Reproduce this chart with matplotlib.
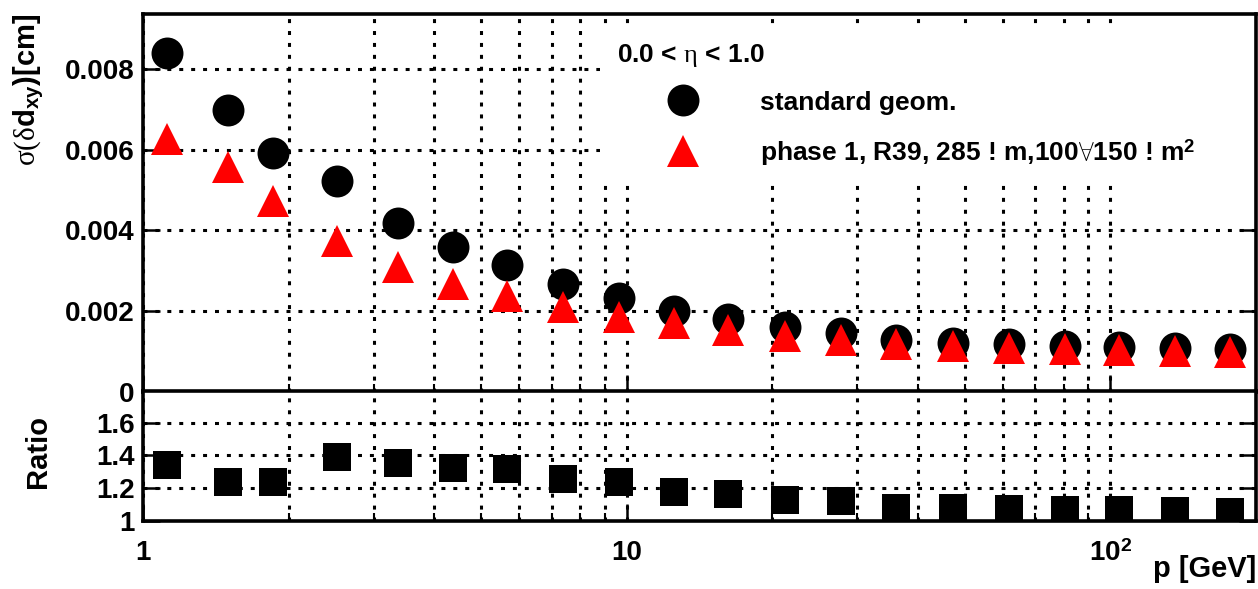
import numpy as np
import matplotlib
matplotlib.use("Agg")
import matplotlib.pyplot as plt
from matplotlib.lines import Line2D
from matplotlib.patches import Rectangle
from matplotlib.ticker import FixedLocator, LogLocator, FuncFormatter, NullFormatter

plt.rcParams['font.family'] = ['Liberation Sans', 'DejaVu Sans']
plt.rcParams['font.weight'] = 'bold'
plt.rcParams['axes.labelweight'] = 'bold'
plt.rcParams['mathtext.fontset'] = 'custom'
plt.rcParams['mathtext.rm'] = 'Liberation Serif:weight=normal'
plt.rcParams['mathtext.bf'] = 'Liberation Sans:bold'
plt.rcParams['mathtext.it'] = 'Liberation Serif:italic:weight=normal'

# momentum bins [GeV]
p = [1.12, 1.50, 1.86, 2.52, 3.36, 4.37, 5.65, 7.38, 9.63, 12.5,
     16.2, 21.2, 27.7, 36.1, 47.2, 61.6, 80.4, 104.4, 136.2, 177.0]

# sigma(delta d_xy) [cm]
sigma_standard = [0.00840, 0.00698, 0.00591, 0.00523, 0.00418, 0.00358, 0.00315, 0.00266,
                  0.00231, 0.00200, 0.00180, 0.00160, 0.00145, 0.00129, 0.00121, 0.00118,
                  0.00113, 0.00110, 0.00107, 0.00106]
sigma_phase1 = [0.00627, 0.00558, 0.00472, 0.00374, 0.00309, 0.00266, 0.00236, 0.00210,
                0.00184, 0.00170, 0.00152, 0.00138, 0.00128, 0.00118, 0.00112, 0.00109,
                0.00105, 0.00102, 0.00100, 0.00098]

# standard / phase 1
ratio = [1.339, 1.240, 1.240, 1.393, 1.352, 1.323, 1.317, 1.254, 1.240, 1.176,
         1.163, 1.129, 1.122, 1.081, 1.081, 1.073, 1.067, 1.066, 1.058, 1.052]

label_standard = "standard geom."
label_phase1 = "phase 1, R39, 285 ! m,100$\\mathrm{\\forall}$150 ! m$^{\\mathbf{2}}$"
eta_range = "0.0 < $\\mathrm{\\eta}$ < 1.0"

fig = plt.figure(figsize=(12.58, 5.89), dpi=100)
ax1 = fig.add_axes([0.1137, 0.3353, 0.8847, 0.6409])
ax2 = fig.add_axes([0.1137, 0.11545, 0.8847, 0.2199], sharex=ax1)

grid_kw = dict(color='black', linewidth=2.2, linestyle=(0, (1.3, 2.6)))

for ax in (ax1, ax2):
    ax.set_xscale('log')
    ax.set_xlim(1, 200)
    for s in ax.spines.values():
        s.set_linewidth(2.6)
    ax.tick_params(axis='both', which='major', direction='in', length=12, width=1.8,
                   labelsize=20, right=True)
    ax.tick_params(axis='x', which='minor', direction='in', length=6, width=1.5)
    ax.xaxis.set_major_locator(LogLocator(base=10))
    ax.xaxis.set_minor_locator(LogLocator(base=10, subs=np.arange(2, 10)))
    ax.xaxis.set_minor_formatter(NullFormatter())
    ax.grid(True, which='both', axis='x', **grid_kw)
    ax.grid(True, which='major', axis='y', **grid_kw)
    ax.set_axisbelow(True)

# upper panel: resolution
ax1.set_ylim(0, 0.00937)
ax1.yaxis.set_major_locator(FixedLocator([0, 0.002, 0.004, 0.006, 0.008]))
ax1.yaxis.set_major_formatter(FuncFormatter(lambda v, pos: '%g' % v))
ax1.tick_params(axis='x', labelbottom=False)
ax1.tick_params(axis='y', pad=6)

ax1.plot(p, sigma_standard, linestyle='none', marker='o', markersize=23,
         color='black', markeredgewidth=0, zorder=4)
ax1.plot(p, sigma_phase1, linestyle='none', marker='^', markersize=23.5,
         color='#ff0000', markeredgewidth=0, zorder=5)

# white legend area hiding the grid
ax1.add_patch(Rectangle((0.4106, 0.560), 0.5894, 0.403, transform=ax1.transAxes,
                        facecolor='white', edgecolor='none', zorder=2))
ax1.text(0.4263, 0.891, eta_range, transform=ax1.transAxes, fontsize=19,
         fontweight='bold', va='center', ha='left', zorder=6)
handles = [
    Line2D([], [], linestyle='none', marker='o', markersize=23, color='black', markeredgewidth=0),
    Line2D([], [], linestyle='none', marker='^', markersize=23.5, color='#ff0000', markeredgewidth=0),
]
leg = ax1.legend(handles, [label_standard, label_phase1], loc='upper left',
                 bbox_to_anchor=(0.4615, 0.797), frameon=False, borderpad=0,
                 borderaxespad=0, handlelength=2.0, handletextpad=1.92,
                 labelspacing=0.85, prop={'size': 19, 'weight': 'bold'})
leg.set_zorder(6)

ax1.set_ylabel(r'$\mathrm{\sigma(\delta}\mathbf{d_{xy})[cm]}$', fontsize=21, loc='top')
ax1.yaxis.set_label_coords(-0.087, 1.0)

# lower panel: ratio
ax2.set_ylim(1, 1.79)
ax2.yaxis.set_major_locator(FixedLocator([1, 1.2, 1.4, 1.6]))
ax2.yaxis.set_major_formatter(FuncFormatter(lambda v, pos: '%g' % v))
ax2.tick_params(axis='y', pad=6)
ax2.tick_params(axis='x', which='major', pad=14)
ax2.xaxis.set_major_formatter(FuncFormatter(
    lambda v, pos: {1: '1', 10: '10', 100: '10$^{\\mathbf{2}}$'}.get(int(round(v)), '')))

ax2.plot(p, ratio, linestyle='none', marker='s', markersize=19.5,
         color='black', markeredgewidth=0, zorder=4)

ax2.set_ylabel('Ratio', fontsize=21)
ax2.yaxis.set_label_coords(-0.082, 0.537)
ax2.set_xlabel('p [GeV]', fontsize=21, loc='right')
ax2.xaxis.set_label_coords(1.0, -0.263)

fig.savefig('out.png', dpi=100)
